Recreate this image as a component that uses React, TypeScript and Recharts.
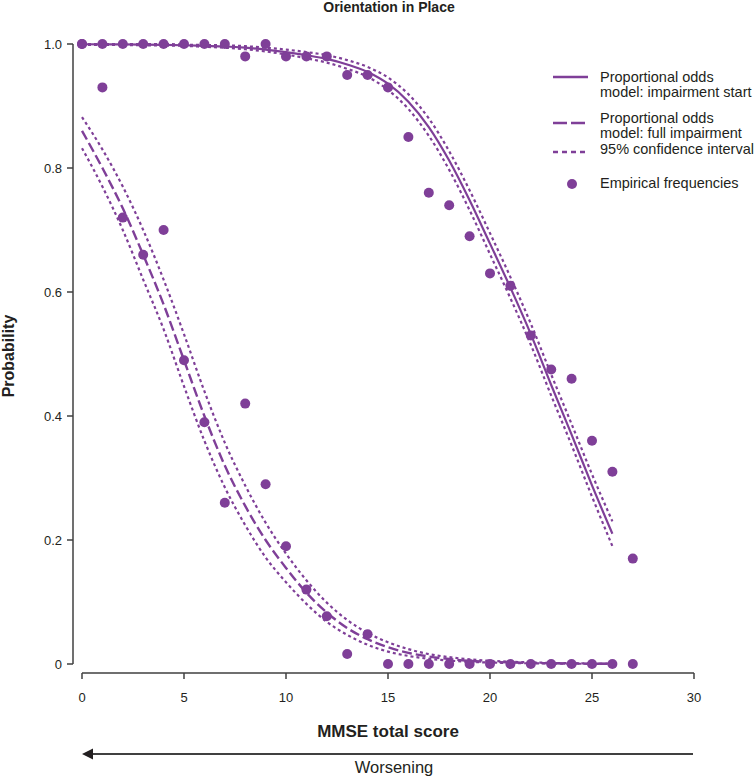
import React from "react";
import {
  ComposedChart,
  Legend,
  Line,
  Scatter,
  XAxis,
  YAxis,
} from "recharts";

const PURPLE = "#7f3f98";
const INK = "#231f20";
const AXIS = "#404040";
const FONT = '"Liberation Sans", Arial, Helvetica, sans-serif';

// model curves at each score
const MODEL_SCORES = [
  0, 1, 2, 3, 4, 5, 6, 7, 8, 9, 10, 11, 12, 13, 14, 15, 16, 17, 18, 19, 20,
  21, 22, 23, 24, 25, 26,
];
const IMP_START = [
  0.9996, 0.9995, 0.9993, 0.999, 0.9986, 0.998, 0.997, 0.996, 0.994, 0.991,
  0.987, 0.982, 0.976, 0.967, 0.955, 0.936, 0.907, 0.866, 0.812, 0.748, 0.678,
  0.607, 0.532, 0.45, 0.37, 0.288, 0.21,
];
const IMP_START_HI = [
  1, 1, 1, 1, 1, 0.999, 0.9985, 0.998, 0.9965, 0.994, 0.991, 0.987, 0.982,
  0.974, 0.963, 0.946, 0.919, 0.88, 0.827, 0.764, 0.695, 0.624, 0.549, 0.467,
  0.387, 0.306, 0.23,
];
const IMP_START_LO = [
  0.9986, 0.9985, 0.9983, 0.998, 0.9976, 0.997, 0.9955, 0.994, 0.9915, 0.988,
  0.983, 0.977, 0.97, 0.96, 0.947, 0.926, 0.895, 0.852, 0.797, 0.732, 0.661,
  0.59, 0.515, 0.433, 0.353, 0.27, 0.19,
];
const FULL_IMP = [
  0.86, 0.8, 0.735, 0.66, 0.58, 0.49, 0.4, 0.32, 0.255, 0.2, 0.155, 0.115,
  0.083, 0.058, 0.04, 0.027, 0.018, 0.012, 0.008, 0.005, 0.0035, 0.0025,
  0.0017, 0.0012, 0.0008, 0.0006, 0.0004,
];
const FULL_IMP_HI = [
  0.882, 0.83, 0.77, 0.7, 0.62, 0.532, 0.44, 0.357, 0.288, 0.228, 0.178, 0.135,
  0.099, 0.071, 0.05, 0.035, 0.024, 0.016, 0.011, 0.0075, 0.0052, 0.0037,
  0.0026, 0.0018, 0.0013, 0.0009, 0.0006,
];
const FULL_IMP_LO = [
  0.832, 0.77, 0.7, 0.62, 0.54, 0.448, 0.36, 0.285, 0.224, 0.172, 0.132, 0.097,
  0.068, 0.047, 0.031, 0.02, 0.013, 0.0085, 0.0055, 0.0035, 0.0023, 0.0016,
  0.0011, 0.0007, 0.0005, 0.0003, 0.0002,
];

// empirical frequencies
const EMP_SCORES = [
  0, 1, 2, 3, 4, 5, 6, 7, 8, 9, 10, 11, 12, 13, 14, 15, 16, 17, 18, 19, 20,
  21, 22, 23, 24, 25, 26, 27,
];
const EMP_START = [
  1, 1, 1, 1, 1, 1, 1, 1, 0.98, 1, 0.98, 0.98, 0.98, 0.95, 0.95, 0.93, 0.85,
  0.76, 0.74, 0.69, 0.63, 0.61, 0.53, 0.475, 0.46, 0.36, 0.31, 0.17,
];
const EMP_FULL = [
  1, 0.93, 0.72, 0.66, 0.7, 0.49, 0.39, 0.26, 0.42, 0.29, 0.19, 0.12, 0.077,
  0.016, 0.048, 0, 0, 0, 0, 0, 0, 0, 0, 0, 0, 0, 0, 0,
];

const X_TICKS = [0, 5, 10, 15, 20, 25, 30];
const Y_TICKS = [0, 0.2, 0.4, 0.6, 0.8, 1];

const LEGEND_ITEMS = [
  { kind: "solid", lines: ["Proportional odds", "model: impairment start"] },
  { kind: "dashed", lines: ["Proportional odds", "model: full impairment"] },
  { kind: "dotted", lines: ["95% confidence interval"] },
  { kind: "dot", lines: ["Empirical frequencies"] },
];
const LEGEND_TOPS = [70, 111, 142, 176];
const LEGEND_ICON_Y = [5, 10, 8, 6];

const modelRows = MODEL_SCORES.map((x, i) => ({
  x,
  start: IMP_START[i],
  startHi: IMP_START_HI[i],
  startLo: IMP_START_LO[i],
  full: FULL_IMP[i],
  fullHi: FULL_IMP_HI[i],
  fullLo: FULL_IMP_LO[i],
}));
const empStart = EMP_SCORES.map((x, i) => ({ x, p: EMP_START[i] }));
const empFull = EMP_SCORES.map((x, i) => ({ x, p: EMP_FULL[i] }));

function Dot(props: any) {
  if (props.cx == null || props.cy == null) return null;
  return <circle cx={props.cx} cy={props.cy} r={5} fill={PURPLE} />;
}

function LegendIcon({ kind }: { kind: string }) {
  if (kind === "dot") {
    return (
      <svg width={40} height={12}>
        <circle cx={20} cy={6} r={5} fill={PURPLE} />
      </svg>
    );
  }
  const dash =
    kind === "dashed" ? "14 4" : kind === "dotted" ? "5 4" : undefined;
  return (
    <svg width={40} height={12}>
      <line
        x1={1}
        x2={36}
        y1={6}
        y2={6}
        stroke={PURPLE}
        strokeWidth={2.4}
        strokeDasharray={dash}
      />
    </svg>
  );
}

function ChartLegend() {
  return (
    <div style={{ position: "relative", width: 202, height: 200 }}>
      {LEGEND_ITEMS.map((item, i) => (
        <div
          key={item.kind}
          style={{ position: "absolute", left: 0, top: LEGEND_TOPS[i] }}
        >
          <div
            style={{ position: "absolute", left: 0, top: LEGEND_ICON_Y[i] - 6 }}
          >
            <LegendIcon kind={item.kind} />
          </div>
          <div
            style={{
              position: "absolute",
              left: 48,
              top: 0,
              whiteSpace: "nowrap",
              fontSize: 14.5,
              lineHeight: "15px",
              color: INK,
              fontFamily: FONT,
            }}
          >
            {item.lines.map((l) => (
              <div key={l}>{l}</div>
            ))}
          </div>
        </div>
      ))}
    </div>
  );
}

function XTitle(props: any) {
  const vb = props.viewBox;
  if (!vb) return null;
  const left = vb.x + 9;
  const right = vb.x + vb.width;
  const cx = (left + right) / 2;
  const arrowY = vb.y + 81;
  return (
    <g>
      <text
        x={cx}
        y={vb.y + 64}
        textAnchor="middle"
        fontSize={17}
        fontWeight="bold"
        fill={INK}
      >
        MMSE total score
      </text>
      <line
        x1={left + 10}
        x2={right - 1}
        y1={arrowY}
        y2={arrowY}
        stroke={AXIS}
        strokeWidth={2}
      />
      <polygon
        points={`${left},${arrowY} ${left + 11},${arrowY - 5.5} ${left + 11},${arrowY + 5.5}`}
        fill={INK}
      />
      <text x={cx + 6} y={vb.y + 100} textAnchor="middle" fontSize={16.5} fill={INK}>
        Worsening
      </text>
    </g>
  );
}

function YTitle(props: any) {
  const vb = props.viewBox;
  if (!vb) return null;
  const x = 13.5;
  const y = vb.y + vb.height / 2 - 2.5;
  return (
    <text
      x={x}
      y={y}
      textAnchor="middle"
      fontSize={16}
      fontWeight="bold"
      fill={INK}
      transform={`rotate(-90, ${x}, ${y})`}
    >
      Probability
    </text>
  );
}

export default function App() {
  return (
    <div
      style={{
        position: "absolute",
        left: 0,
        top: 0,
        width: 754,
        height: 778,
        background: "#fff",
        fontFamily: FONT,
      }}
    >
      <div
        style={{
          position: "absolute",
          left: 289,
          top: -1,
          width: 200,
          textAlign: "center",
          fontSize: 14,
          lineHeight: "16px",
          fontWeight: "bold",
          color: INK,
        }}
      >
        Orientation in Place
      </div>
      <ComposedChart
        width={754}
        height={778}
        data={modelRows}
        margin={{ top: 44, right: 60, bottom: 0, left: 0 }}
        style={{ fontFamily: FONT }}
      >
        <XAxis
          dataKey="x"
          type="number"
          domain={[0, 30]}
          ticks={X_TICKS}
          height={105}
          padding={{ left: 9, right: 0 }}
          axisLine={{ stroke: AXIS, strokeWidth: 1.5, strokeDasharray: "0 9 700" }}
          tickLine={{ stroke: AXIS, strokeWidth: 1.5 }}
          tickSize={6}
          tickMargin={14}
          tick={{ fill: INK, fontSize: 13 }}
          label={XTitle}
        />
        <YAxis
          type="number"
          domain={[0, 1]}
          ticks={Y_TICKS}
          width={73}
          padding={{ top: 0, bottom: 9 }}
          axisLine={{ stroke: AXIS, strokeWidth: 1.5, strokeDasharray: "620 100" }}
          tickLine={{ stroke: AXIS, strokeWidth: 1.5 }}
          tickSize={6}
          tickMargin={5}
          tick={{ fill: INK, fontSize: 13 }}
          tickFormatter={(v: number) => (v === 0 ? "0" : v.toFixed(1))}
          label={YTitle}
        />
        <Legend
          layout="vertical"
          align="center"
          verticalAlign="middle"
          content={() => <ChartLegend />}
          wrapperStyle={{ left: 552, top: 0, width: 202, height: 200 }}
        />
        <Line dataKey="startHi" type="monotone" stroke={PURPLE} strokeWidth={2.2} strokeDasharray="3 3" dot={false} isAnimationActive={false} />
        <Line dataKey="startLo" type="monotone" stroke={PURPLE} strokeWidth={2.2} strokeDasharray="3 3" dot={false} isAnimationActive={false} />
        <Line dataKey="fullHi" type="monotone" stroke={PURPLE} strokeWidth={2.2} strokeDasharray="3 3" dot={false} isAnimationActive={false} />
        <Line dataKey="fullLo" type="monotone" stroke={PURPLE} strokeWidth={2.2} strokeDasharray="3 3" dot={false} isAnimationActive={false} />
        <Line dataKey="start" type="monotone" stroke={PURPLE} strokeWidth={2.2} dot={false} isAnimationActive={false} />
        <Line dataKey="full" type="monotone" stroke={PURPLE} strokeWidth={2.4} strokeDasharray="10 4" dot={false} isAnimationActive={false} />
        <Scatter data={empStart} dataKey="p" fill={PURPLE} shape={Dot} isAnimationActive={false} />
        <Scatter data={empFull} dataKey="p" fill={PURPLE} shape={Dot} isAnimationActive={false} />
      </ComposedChart>
    </div>
  );
}
